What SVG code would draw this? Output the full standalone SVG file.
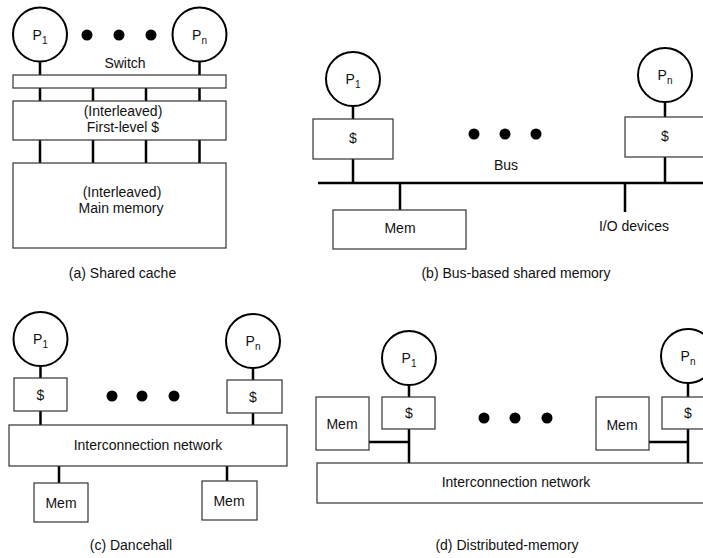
<svg xmlns="http://www.w3.org/2000/svg" width="703" height="558" viewBox="0 0 703 558">
<style>
text{font-family:"Liberation Sans",Arial,sans-serif;font-size:14px;fill:#111;text-anchor:middle}
.sub{font-size:10px}
.box{fill:#fff;stroke:#333;stroke-width:1.2}
.proc{fill:#fff;stroke:#000;stroke-width:2}
.dot{fill:#000}
.wire{stroke:#000;stroke-width:2.5;fill:none}
</style>
<rect width="703" height="558" fill="#fff"/>

<!-- (a) Shared cache -->
<g id="a-connectors">
<path class="wire" d="M40 61V75M199.5 61V75M40 88V101M93 88V101M146 88V101M199.5 88V101M40 140V163M93 140V163M146 140V163M199.5 140V163"/>
</g>
<g id="a-p1"><circle class="proc" cx="40" cy="34.5" r="27"/><text x="40" y="40">P<tspan class="sub" dy="4">1</tspan></text></g>
<g id="a-pn"><circle class="proc" cx="199.5" cy="34.5" r="27"/><text x="199.5" y="40">P<tspan class="sub" dy="4">n</tspan></text></g>
<g id="a-dots"><circle class="dot" cx="87" cy="35" r="5.5"/><circle class="dot" cx="119" cy="35" r="5.5"/><circle class="dot" cx="151" cy="35" r="5.5"/></g>
<g id="a-switch"><text x="125" y="68">Switch</text><rect class="box" x="13" y="75" width="213" height="13"/></g>
<g id="a-cache"><rect class="box" x="13" y="101" width="213" height="39"/><text x="123" y="115.5">(Interleaved)</text><text x="123" y="132">First-level $</text></g>
<g id="a-mem"><rect class="box" x="13" y="163" width="213" height="85"/><text x="122" y="197">(Interleaved)</text><text x="121" y="213">Main memory</text></g>
<text id="a-caption" x="122.5" y="278">(a) Shared cache</text>

<!-- (b) Bus-based shared memory -->
<g id="b-connectors">
<path class="wire" d="M353 106V119M353 159V183M665 102V117M665 157V183M400 183V210M625 183V212"/>
<path class="wire" d="M318 183H703" stroke-width="3"/>
</g>
<g id="b-p1"><circle class="proc" cx="353" cy="79" r="27"/><text x="353" y="84">P<tspan class="sub" dy="4">1</tspan></text></g>
<g id="b-c1"><rect class="box" x="313" y="119" width="80" height="40"/><text x="353" y="143">$</text></g>
<g id="b-pn"><circle class="proc" cx="665" cy="75" r="27"/><text x="665" y="80">P<tspan class="sub" dy="4">n</tspan></text></g>
<g id="b-cn"><rect class="box" x="625" y="117" width="80" height="40"/><text x="665" y="141">$</text></g>
<g id="b-dots"><circle class="dot" cx="474" cy="134" r="5.5"/><circle class="dot" cx="505" cy="134" r="5.5"/><circle class="dot" cx="536" cy="134" r="5.5"/></g>
<text id="b-bus" x="506" y="170">Bus</text>
<g id="b-mem"><rect class="box" x="333" y="210" width="133" height="39"/><text x="400" y="233">Mem</text></g>
<text id="b-io" x="634" y="231">I/O devices</text>
<text id="b-caption" x="516" y="278">(b) Bus-based shared memory</text>

<!-- (c) Dancehall -->
<g id="c-connectors">
<path class="wire" d="M40.5 366V378M40.5 411V425M253 368V380M253 413V425M59 466V483M227 466V481"/>
</g>
<g id="c-p1"><circle class="proc" cx="40.5" cy="339" r="27"/><text x="40.5" y="344">P<tspan class="sub" dy="4">1</tspan></text></g>
<g id="c-c1"><rect class="box" x="14" y="378" width="53" height="33"/><text x="40.5" y="400">$</text></g>
<g id="c-pn"><circle class="proc" cx="253" cy="341" r="27"/><text x="253" y="346">P<tspan class="sub" dy="4">n</tspan></text></g>
<g id="c-cn"><rect class="box" x="227" y="380" width="55" height="33"/><text x="253" y="402">$</text></g>
<g id="c-dots"><circle class="dot" cx="112" cy="396" r="5.5"/><circle class="dot" cx="142" cy="396" r="5.5"/><circle class="dot" cx="174" cy="396" r="5.5"/></g>
<g id="c-net"><rect class="box" x="9" y="425" width="278" height="41"/><text x="148" y="450">Interconnection network</text></g>
<g id="c-mem1"><rect class="box" x="34" y="483" width="54" height="39"/><text x="61" y="508">Mem</text></g>
<g id="c-mem2"><rect class="box" x="202" y="481" width="55" height="39"/><text x="229" y="506">Mem</text></g>
<text id="c-caption" x="131" y="550">(c) Dancehall</text>

<!-- (d) Distributed-memory -->
<g id="d-connectors">
<path class="wire" d="M409 385V397M409 429V463M369 442H409M688 383V397M688 429V463M649 442H688"/>
</g>
<g id="d-p1"><circle class="proc" cx="409" cy="358" r="27"/><text x="409" y="363">P<tspan class="sub" dy="4">1</tspan></text></g>
<g id="d-c1"><rect class="box" x="382" y="397" width="53" height="32"/><text x="409" y="418">$</text></g>
<g id="d-mem1"><rect class="box" x="316" y="397" width="53" height="53"/><text x="342" y="429">Mem</text></g>
<g id="d-pn"><circle class="proc" cx="688" cy="356" r="27"/><text x="688" y="361">P<tspan class="sub" dy="4">n</tspan></text></g>
<g id="d-cn"><rect class="box" x="662" y="397" width="53" height="32"/><text x="688" y="418">$</text></g>
<g id="d-mem2"><rect class="box" x="596" y="397" width="53" height="53"/><text x="622" y="430">Mem</text></g>
<g id="d-dots"><circle class="dot" cx="484" cy="418" r="5.5"/><circle class="dot" cx="515" cy="418" r="5.5"/><circle class="dot" cx="547" cy="418" r="5.5"/></g>
<g id="d-net"><rect class="box" x="317" y="463" width="400" height="40"/><text x="516" y="487">Interconnection network</text></g>
<text id="d-caption" x="507" y="550">(d) Distributed-memory</text>
</svg>
